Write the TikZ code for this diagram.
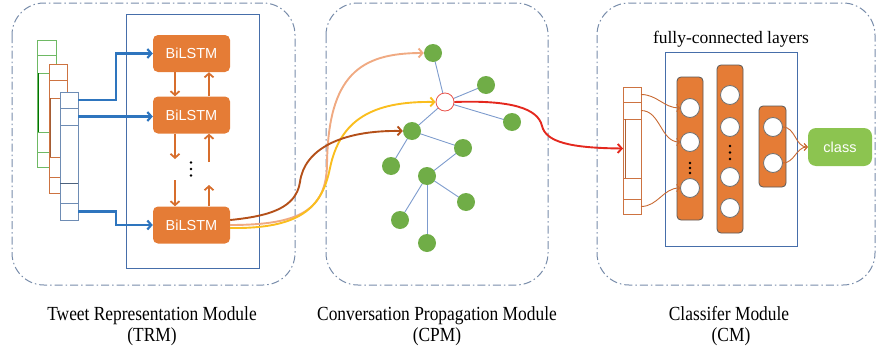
\documentclass[tikz,border=0pt]{standalone}
\usepackage{fontspec}
\setmainfont{Liberation Serif}
\newfontfamily\sansf{Liberation Sans}
\usetikzlibrary{arrows.meta}
\definecolor{modc}{RGB}{120,140,170}
\definecolor{innerblue}{RGB}{70,110,170}
\definecolor{boxorange}{RGB}{229,124,54}
\definecolor{arrblue}{RGB}{46,117,190}
\definecolor{arrorange}{RGB}{215,110,45}
\definecolor{vgreen}{RGB}{110,185,100}
\definecolor{vorange}{RGB}{205,115,65}
\definecolor{vblue}{RGB}{110,140,180}
\definecolor{nodegreen}{RGB}{112,173,71}
\definecolor{edgeblue}{RGB}{125,155,205}
\definecolor{cbrown}{RGB}{180,80,25}
\definecolor{cpeach}{RGB}{240,170,130}
\definecolor{cyellow}{RGB}{250,190,30}
\definecolor{cred}{RGB}{228,40,30}
\definecolor{classgreen}{RGB}{140,196,80}
\definecolor{thinbrown}{RGB}{200,105,50}
\begin{document}
\begin{tikzpicture}[x=1pt,y=-1pt,
  modbox/.style={draw=modc, line width=1pt, rounded corners=32pt,
    dash pattern=on 8pt off 3pt on 1.5pt off 3pt},
  innerbox/.style={draw=innerblue, line width=0.8pt},
  lstm/.style={fill=boxorange, rounded corners=5pt, minimum width=77pt,
    minimum height=37pt, inner sep=0pt, text=white,
    font=\sansf\fontsize{14.5}{16}\selectfont},
  barb/.style={-{Straight Barb[length=4pt,width=9pt]}},
  bluearr/.style={draw=arrblue, line width=2.2pt, barb},
  orarr/.style={draw=arrorange, line width=1.8pt, barb},
  cell/.style={draw, fill=white, line width=0.8pt, inner sep=0pt, outer sep=0pt},
  gcell/.style={cell, draw=vgreen, minimum width=19pt},
  ocell/.style={cell, draw=vorange, minimum width=18pt},
  bcell/.style={cell, draw=vblue, minimum width=18pt},
  icell/.style={cell, draw=vorange, minimum width=18pt},
  gnode/.style={circle, fill=nodegreen, minimum size=18pt, inner sep=0pt},
  hnode/.style={circle, draw=cred!80, fill=white, line width=0.8pt, minimum size=18pt, inner sep=0pt},
  gedge/.style={draw=edgeblue, line width=0.9pt},
  curve/.style={line width=1.9pt, barb},
  col/.style={draw=black!65, fill=boxorange, rounded corners=4pt, line width=0.8pt,
    minimum width=26pt, inner sep=0pt},
  neuron/.style={circle, draw=black!55, fill=white, line width=0.8pt, minimum size=19pt, inner sep=0pt},
  dotn/.style={circle, fill=black, minimum size=2.6pt, inner sep=0pt},
  fcarr/.style={draw=thinbrown, line width=0.9pt, -{Straight Barb[length=3pt,width=7pt]}},
  lab/.style={anchor=base, inner sep=0pt, font=\fontsize{20}{21}\selectfont},
]
\useasboundingbox (0,0) rectangle (876,351);

% module frames
\draw[modbox] (12,3) rectangle (295,285);
\draw[modbox] (326,3) rectangle (548,285);
\draw[modbox] (597,3) rectangle (875,285);

% labels
\node[lab] (trm1) at (152,320) {\scalebox{0.87}[1]{Tweet Representation Module}};
\node[lab] (trm2) at (152,341) {\scalebox{0.87}[1]{(TRM)}};
\node[lab] (cpm1) at (437,320) {\scalebox{0.87}[1]{Conversation Propagation Module}};
\node[lab] (cpm2) at (437,341) {\scalebox{0.87}[1]{(CPM)}};
\node[lab] (cm1) at (729,320) {\scalebox{0.87}[1]{Classifer Module}};
\node[lab] (cm2) at (731,341) {\scalebox{0.87}[1]{(CM)}};

% ---------------- TRM ----------------
\draw[innerbox] (126,14) rectangle (259,268);

% green vector
\node[gcell, minimum height=15pt] (g1) at (46.5,47.5) {};
\node[gcell, minimum height=18pt] (g2) at (46.5,64) {};
\node[gcell, minimum height=59pt] (g3) at (46.5,102.5) {};
\node[gcell, minimum height=20pt] (g4) at (46.5,142) {};
\node[gcell, minimum height=15pt] (g5) at (46.5,159.5) {};
\draw[green!45!black, line width=0.8pt] (38.5,73) -- (38.5,132);
% orange vector
\node[ocell, minimum height=16pt] (o1) at (58,72) {};
\node[ocell, minimum height=18pt] (o2) at (58,89) {};
\node[ocell, minimum height=59pt] (o3) at (58,127.5) {};
\node[ocell, minimum height=20pt] (o4) at (58,167) {};
\node[ocell, minimum height=16pt] (o5) at (58,185) {};
\draw[vorange!80!black, line width=0.8pt] (50.5,98) -- (50.5,157);
% blue vector
\node[bcell, minimum height=16pt] (v1) at (69,100) {};
\node[bcell, minimum height=17pt] (v2) at (69,116.5) {};
\node[bcell, minimum height=58pt] (v3) at (69,154) {};
\node[bcell, minimum height=20pt] (v4) at (69,193) {};
\node[bcell, minimum height=17pt] (v5) at (69,211.5) {};
\draw[vblue!70!black, line width=0.6pt] (60,183) -- (78,183);

% BiLSTM boxes
\node[lstm] (b1) at (191.5,53.5) {BiLSTM};
\node[lstm] (b2) at (191.5,115) {BiLSTM};
\node[lstm] (b3) at (191.5,225) {BiLSTM};

% input arrows
\draw[bluearr] (v1.east) -- ++(38,0) |- (b1.west);
\draw[bluearr] (v2.east) -- (v2.east -| b2.west);
\draw[bluearr] (v5.east) -- ++(38,0) |- (b3.west);

% vertical arrows
\coordinate (d1) at (175,159);
\coordinate (d2) at (175,180);
\coordinate (u1) at (209,162);
\coordinate (u2) at (209,185);
\draw[orarr] ([xshift=-16.5pt]b1.south) -- ([xshift=-16.5pt]b2.north);
\draw[orarr] ([xshift=17.5pt]b2.north) -- ([xshift=17.5pt]b1.south);
\draw[orarr] ([xshift=-16.5pt]b2.south) -- (d1);
\draw[orarr] (d2) -- ([xshift=-16.5pt]b3.north);
\draw[orarr] ([xshift=17.5pt]b3.north) -- (u2);
\draw[orarr] (u1) -- ([xshift=17.5pt]b2.south);
\node[dotn] (dt1) at (191,162.5) {};
\node[dotn] (dt2) at (191,169) {};
\node[dotn] (dt3) at (191,175.5) {};

% ---------------- CPM ----------------
\coordinate (ntop) at (433,53);
\coordinate (nh) at (445,102);
\coordinate (nr1) at (486,85);
\coordinate (nr2) at (512,122);
\coordinate (nm) at (412,131);
\coordinate (nm2) at (463,148);
\coordinate (nl) at (391,166);
\coordinate (nc) at (427,176);
\coordinate (nc2) at (466,202);
\coordinate (nc3) at (400,220);
\coordinate (nb) at (427,243);
\draw[gedge] (ntop) -- (nh);
\draw[gedge] (nh) -- (nr1);
\draw[gedge] (nh) -- (nr2);
\draw[gedge] (nh) -- (nm);
\draw[gedge] (nm) -- (nm2);
\draw[gedge] (nm) -- (nl);
\draw[gedge] (nm2) -- (nc);
\draw[gedge] (nc) -- (nc2);
\draw[gedge] (nc) -- (nc3);
\draw[gedge] (nc) -- (nb);
\node[gnode] (top) at (ntop) {};
\node[hnode] (h) at (nh) {};
\node[gnode] (r1) at (nr1) {};
\node[gnode] (r2) at (nr2) {};
\node[gnode] (m) at (nm) {};
\node[gnode] (m2) at (nm2) {};
\node[gnode] (l) at (nl) {};
\node[gnode] (c) at (nc) {};
\node[gnode] (c2) at (nc2) {};
\node[gnode] (c3) at (nc3) {};
\node[gnode] (bt) at (nb) {};

% curves from BiLSTM to the graph
\draw[curve, draw=cpeach] ([yshift=0pt]b3.east) .. controls (300,225) and (326,210) .. (327,165)
   .. controls (328,75) and (360,53) .. (top.west);
\draw[curve, draw=cyellow] ([yshift=-3pt]b3.east) .. controls (300,229) and (322,208) .. (330,168)
   .. controls (340,120) and (372,101) .. (h.west);
\draw[curve, draw=cbrown] ([yshift=5pt]b3.east) .. controls (270,216) and (296,208) .. (300,182)
   .. controls (304,150) and (340,130) .. (m.west);

% ---------------- CM ----------------
\node[font=\fontsize{17.5}{19}\selectfont, inner sep=0pt] (fc) at (731,39) {fully-connected layers};
\draw[innerbox] (665,52) rectangle (797,246);

\node[icell, minimum height=15pt] (i1) at (632,94.5) {};
\node[icell, minimum height=17pt] (i2) at (632,110.5) {};
\node[icell, minimum height=59pt] (i3) at (632,148.5) {};
\node[icell, minimum height=21pt] (i4) at (632,188.5) {};
\node[icell, minimum height=15pt] (i5) at (632,206.5) {};
\draw[vorange!85!black, line width=0.8pt] (625,119) -- (625,178);

% red arrow
\draw[draw=cred, line width=1.9pt, barb] (h.east) .. controls (510,100) and (538,108) .. (542,126)
   .. controls (546,142) and (570,148) .. (i3.west);

\node[col, minimum height=143pt] (col1) at (690,148.5) {};
\node[col, minimum height=168pt] (col2) at (730,149) {};
\node[col, minimum width=27pt, minimum height=81pt] (col3) at (772.5,146.5) {};

\node[neuron] (n11) at (690,108) {};
\node[neuron] (n12) at (690,142) {};
\node[neuron] (n13) at (690,188) {};
\node[dotn] (e1) at (690,163) {};
\node[dotn] (e2) at (690,168) {};
\node[dotn] (e3) at (690,173) {};
\node[neuron] (n21) at (730,95) {};
\node[neuron] (n22) at (730,127) {};
\node[neuron] (n23) at (730,177) {};
\node[neuron] (n24) at (730,208) {};
\node[dotn] (e4) at (730,146) {};
\node[dotn] (e5) at (730,152.5) {};
\node[dotn] (e6) at (730,159) {};
\node[neuron] (n31) at (773,127) {};
\node[neuron] (n32) at (773,163) {};

\node[fill=classgreen, rounded corners=8pt, minimum width=64pt, minimum height=38pt,
  text=white, font=\sansf\fontsize{14.5}{16}\selectfont, inner sep=0pt] (cls) at (840,147) {class};

\draw[fcarr] (i1.east) to[out=0, in=180] (n11.west);
\draw[fcarr] (i2.east) to[out=0, in=180] (n12.west);
\draw[fcarr] (i5.east) to[out=0, in=180] (n13.west);
\draw[fcarr] (n31.east) to[out=0, in=180] (cls.west);
\draw[fcarr] (n32.east) to[out=0, in=180] (cls.west);
\end{tikzpicture}
\end{document}
